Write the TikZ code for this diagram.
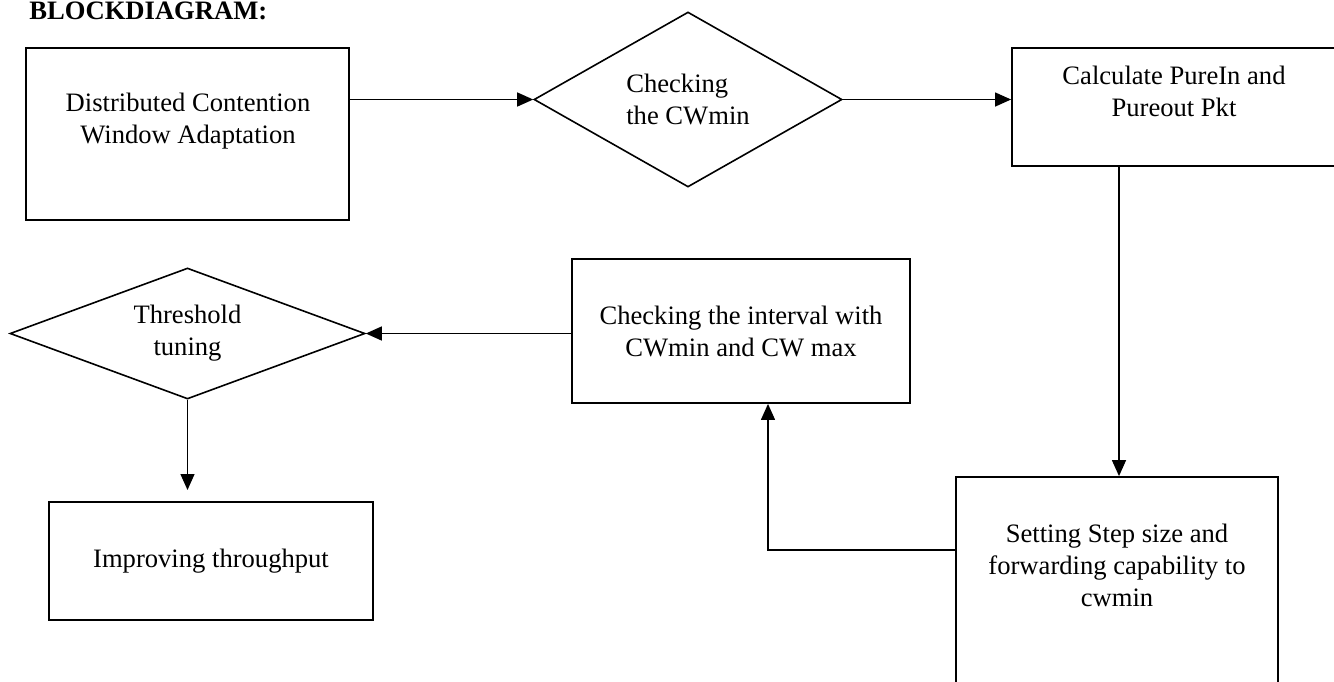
\documentclass[tikz,border=0pt]{standalone}
\usepackage{fontspec}
\setmainfont{Liberation Serif}
\usetikzlibrary{shapes.geometric, arrows.meta, positioning, calc}

\begin{document}
\begin{tikzpicture}[
  x=0.5pt, y=-0.5pt,
  font=\fontsize{13.3}{16}\selectfont,
  >={Triangle[length=8pt,width=7pt]},
  block/.style={
    rectangle, draw=black, line width=0.9pt, inner sep=0pt, align=center
  },
  decision/.style={
    diamond, draw=black, line width=0.8pt, inner sep=0pt
  },
  boxtext/.style={align=center, inner sep=0pt},
  flow/.style={->, line width=0.65pt, color=black}
]
\useasboundingbox (0,0) rectangle (1334,681);
\clip (0,0) rectangle (1334,681);

% Title
\node[anchor=west, inner sep=0pt, font=\fontsize{13.3}{16}\selectfont\bfseries] (title) at (29,11) {BLOCKDIAGRAM:};

% Top row
\node[block, minimum width=161.5pt, minimum height=86pt] (dcwa) at (187.5,134) {};
\node[boxtext] (dcwa-txt) at (188,121) {Distributed Contention\\Window Adaptation};
\node[decision, minimum width=154pt, minimum height=87.5pt, aspect=1.76, align=left] (cwmin) at (688,99.5) {Checking\\the CWmin};
\node[block, minimum width=163pt, minimum height=59pt] (pure) at (1175,107) {};
\node[boxtext] (pure-txt) at (1174,91) {Calculate PureIn and\\Pureout Pkt};

% Middle row
\node[decision, minimum width=177.5pt, minimum height=65.5pt, aspect=2.7, align=center] (thresh) at (187.5,333.5) {Threshold\\tuning};
\node[block, minimum width=169pt, minimum height=72pt] (interval) at (741,331) {Checking the interval with\\CWmin and CW max};

% Bottom row
\node[block, minimum width=162pt, minimum height=59pt] (improve) at (211,561) {Improving throughput};
\node[block, minimum width=161pt, minimum height=121.5pt] (stepsize) at (1117,598.5) {};
\node[boxtext] (stepsize-txt) at (1117,565) {Setting Step size and\\forwarding capability to\\cwmin};

% Connector ends
\coordinate (pure-out) at (1119,166);
\coordinate (step-out) at (956,550);
\coordinate (interval-in) at (768,404);
\coordinate (improve-in) at (187.5,490);

% Flow arrows
\draw[flow] (dcwa.east |- cwmin.west) -- (cwmin.west);
\draw[flow] (cwmin.east) -- (pure.west |- cwmin.east);
\draw[flow] (pure-out) -- (pure-out |- stepsize.north);
\draw[flow] (step-out) -| (interval-in |- interval.south);
\draw[flow] (interval.west |- thresh.east) -- (thresh.east);
\draw[flow] (thresh.south) -- (improve-in);

\end{tikzpicture}
\end{document}
